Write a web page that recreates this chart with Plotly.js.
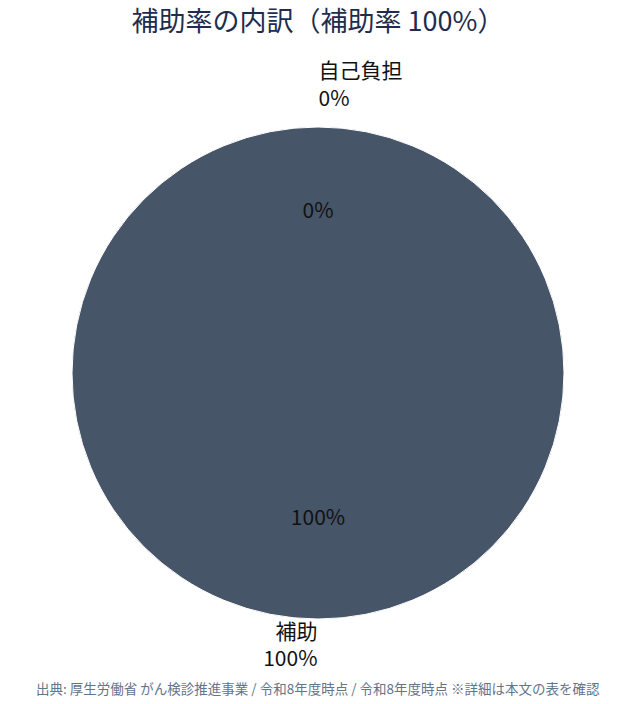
<!DOCTYPE html>
<html>
<head>
<meta charset="utf-8">
<script src="https://cdn.plot.ly/plotly-3.0.1.min.js"></script>
<style>
  body { margin: 0; background: #fff; }
  #chart { width: 636px; height: 704px; }
</style>
</head>
<body>
<div id="chart"></div>
<script>
// 補助率の内訳
var labels = ["自己負担", "補助"];
var values = [0, 100];
var colors = ["#94a3b8", "#475569"];

var total = values.reduce(function (a, b) { return a + b; }, 0);
var pct = values.map(function (v) { return Math.round(v / total * 100) + "%"; });

var font = "'Noto Sans CJK JP', 'Noto Sans', sans-serif";
var ink = "#111111";

// layers share the pie centre; only radius (and a small x nudge for text) changes
var cx = 318, cy = 373, W = 636, H = 704;
function dom(r, dx) {
  var x0 = cx + (dx || 0);
  return {
    x: [(x0 - r) / W, (x0 + r) / W],
    y: [(H - cy - r) / H, (H - cy + r) / H]
  };
}

function ghost(r, dx, text, extra) {
  var t = {
    type: "pie",
    labels: labels,
    values: values,
    sort: false,
    direction: "clockwise",
    rotation: 0,
    domain: dom(r, dx),
    marker: { colors: ["rgba(0,0,0,0)", "rgba(0,0,0,0)"] },
    text: text,
    textinfo: text ? "text" : "none",
    textposition: "outside",
    outsidetextfont: { color: ink, size: 21, family: font },
    hoverinfo: "skip",
    showlegend: false
  };
  for (var k in extra) t[k] = extra[k];
  return t;
}

var fill = {
  type: "pie",
  labels: labels,
  values: values,
  sort: false,
  direction: "clockwise",
  rotation: 0,
  domain: dom(246),
  marker: { colors: colors, line: { color: "#ffffff", width: 1 } },
  textinfo: "none",
  hoverinfo: "label+percent",
  showlegend: false
};

var titleFont = { color: ink, size: 21, family: font };

var traces = [
  fill,
  // outside labels, one line per layer
  ghost(289, -7, [labels[0], ""]),
  ghost(261, -7, [pct[0], ""]),
  ghost(242, 7, ["", labels[1]]),
  ghost(269, 7, ["", pct[1]]),
  // inner percents, centred as pie titles
  ghost(176, 0, null, { title: { text: pct[0], position: "top center", font: titleFont } }),
  ghost(161, 0, null, { title: { text: pct[1], position: "bottom center", font: titleFont } })
];

var layout = {
  title: {
    text: "補助率の内訳（補助率 100%）",
    font: { family: font, size: 27, color: "#1e2d4d" },
    x: 0.5, xanchor: "center", y: 0.969, yanchor: "middle"
  },
  margin: { l: 0, r: 0, t: 0, b: 0 },
  paper_bgcolor: "#ffffff",
  font: { family: font },
  annotations: [{
    text: "出典: 厚生労働省 がん検診推進事業 / 令和8年度時点 / 令和8年度時点 ※詳細は本文の表を確認",
    xref: "paper", yref: "paper", x: 0.5, y: 16 / 704,
    xanchor: "center", yanchor: "middle", showarrow: false,
    font: { family: font, size: 13.5, color: "#64748b" }
  }]
};

Plotly.newPlot("chart", traces, layout, { displayModeBar: false });
</script>
</body>
</html>
